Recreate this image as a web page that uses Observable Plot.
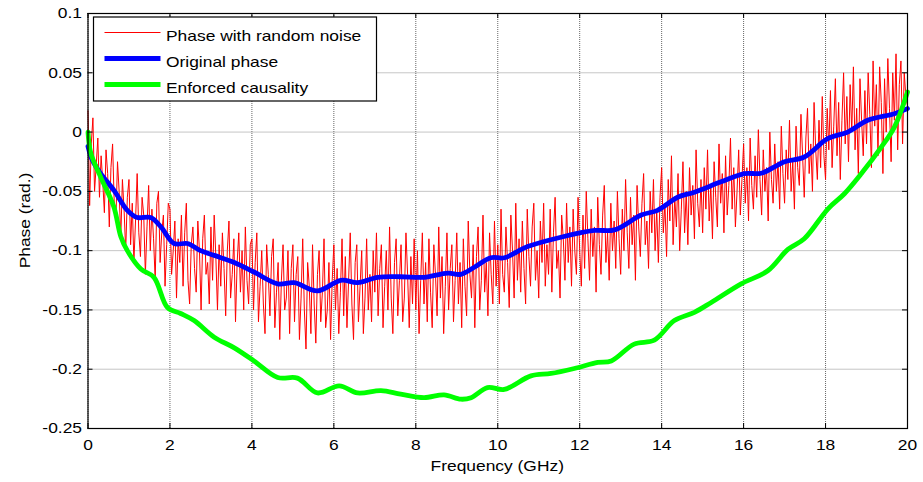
<!DOCTYPE html>
<html>
<head>
<meta charset="utf-8">
<script src="https://cdn.jsdelivr.net/npm/d3@7"></script>
<script src="https://cdn.jsdelivr.net/npm/@observablehq/plot@0.6"></script>
<style>
  html, body { margin: 0; padding: 0; background: #fff; }
  #chart { width: 923px; height: 482px; }
  svg { font-family: "Liberation Sans", Arial, sans-serif; }
</style>
</head>
<body>
<div id="chart"></div>
<script>
// ---- data ----
const xTicks = [0, 2, 4, 6, 8, 10, 12, 14, 16, 18, 20];
const yTicks = [-0.25, -0.2, -0.15, -0.1, -0.05, 0, 0.05, 0.1];
const seriesNames = ["Phase with random noise", "Original phase", "Enforced causality"];
const xLabel = "Frequency (GHz)";
const yLabel = "Phase (rad.)";

// phase with random noise, sampled every 0.04 GHz from 0 to 20 GHz (25 values per GHz)
const noisyPhase = [
  0.018, -0.062, -0.010, 0.012, -0.050, -0.028, -0.005, -0.055, -0.020, -0.042, -0.068, -0.015, -0.035, -0.080, -0.030, -0.010, -0.060, -0.075, -0.025, -0.050, -0.090, -0.040, -0.065, -0.100, -0.055,
  -0.040, -0.095, -0.060, -0.110, -0.075, -0.035, -0.085, -0.105, -0.055, -0.070, -0.120, -0.080, -0.045, -0.100, -0.065, -0.090, -0.125, -0.060, -0.050, -0.110, -0.085, -0.070, -0.130, -0.095, -0.060,
  -0.065, -0.120, -0.100, -0.075, -0.140, -0.090, -0.110, -0.070, -0.130, -0.085, -0.060, -0.125, -0.145, -0.095, -0.080, -0.115, -0.135, -0.075, -0.100, -0.150, -0.090, -0.070, -0.120, -0.110, -0.145,
  -0.080, -0.125, -0.070, -0.105, -0.150, -0.095, -0.130, -0.085, -0.115, -0.155, -0.100, -0.075, -0.140, -0.120, -0.090, -0.160, -0.110, -0.085, -0.135, -0.100, -0.150, -0.080, -0.125, -0.145, -0.095,
  -0.090, -0.150, -0.110, -0.085, -0.160, -0.130, -0.100, -0.145, -0.170, -0.095, -0.120, -0.155, -0.105, -0.090, -0.165, -0.135, -0.110, -0.175, -0.125, -0.095, -0.150, -0.140, -0.100, -0.170, -0.115,
  -0.095, -0.160, -0.120, -0.105, -0.175, -0.140, -0.090, -0.150, -0.183, -0.110, -0.130, -0.170, -0.095, -0.145, -0.178, -0.120, -0.100, -0.160, -0.135, -0.090, -0.165, -0.150, -0.110, -0.175, -0.125,
  -0.095, -0.150, -0.115, -0.170, -0.135, -0.090, -0.155, -0.105, -0.165, -0.125, -0.085, -0.145, -0.175, -0.110, -0.095, -0.160, -0.130, -0.100, -0.170, -0.140, -0.090, -0.150, -0.120, -0.160, -0.100,
  -0.135, -0.085, -0.155, -0.115, -0.095, -0.165, -0.130, -0.100, -0.150, -0.080, -0.140, -0.170, -0.110, -0.090, -0.155, -0.125, -0.095, -0.160, -0.140, -0.085, -0.120, -0.165, -0.105, -0.145, -0.090,
  -0.150, -0.100, -0.170, -0.125, -0.085, -0.145, -0.110, -0.160, -0.090, -0.135, -0.165, -0.095, -0.120, -0.155, -0.080, -0.140, -0.105, -0.170, -0.130, -0.085, -0.150, -0.115, -0.095, -0.160, -0.125,
  -0.085, -0.145, -0.110, -0.165, -0.090, -0.130, -0.155, -0.075, -0.120, -0.140, -0.095, -0.165, -0.105, -0.080, -0.150, -0.125, -0.070, -0.135, -0.110, -0.155, -0.085, -0.120, -0.145, -0.075, -0.130,
  -0.095, -0.145, -0.065, -0.120, -0.135, -0.080, -0.110, -0.148, -0.070, -0.100, -0.140, -0.060, -0.125, -0.090, -0.135, -0.075, -0.115, -0.145, -0.065, -0.105, -0.130, -0.080, -0.060, -0.125, -0.100,
  -0.140, -0.075, -0.110, -0.060, -0.130, -0.095, -0.120, -0.065, -0.135, -0.085, -0.055, -0.115, -0.100, -0.140, -0.070, -0.090, -0.125, -0.060, -0.110, -0.080, -0.130, -0.065, -0.100, -0.120, -0.055,
  -0.100, -0.130, -0.070, -0.115, -0.050, -0.090, -0.125, -0.065, -0.105, -0.080, -0.135, -0.055, -0.095, -0.120, -0.070, -0.045, -0.110, -0.085, -0.125, -0.060, -0.100, -0.075, -0.115, -0.050, -0.090,
  -0.120, -0.065, -0.100, -0.040, -0.085, -0.115, -0.055, -0.095, -0.070, -0.125, -0.045, -0.080, -0.105, -0.060, -0.035, -0.095, -0.075, -0.115, -0.050, -0.085, -0.040, -0.100, -0.065, -0.110, -0.055,
  -0.030, -0.085, -0.060, -0.105, -0.040, -0.075, -0.020, -0.095, -0.055, -0.080, -0.035, -0.100, -0.065, -0.025, -0.085, -0.050, -0.095, -0.030, -0.070, -0.045, -0.090, -0.015, -0.060, -0.080, -0.040,
  -0.085, -0.030, -0.065, -0.015, -0.075, -0.045, -0.090, -0.025, -0.055, -0.080, -0.010, -0.060, -0.035, -0.085, -0.020, -0.070, -0.045, -0.005, -0.065, -0.030, -0.080, -0.050, -0.015, -0.070, -0.040,
  -0.010, -0.060, -0.030, -0.075, -0.005, -0.045, -0.065, -0.020, -0.055, 0.002, -0.040, -0.070, -0.015, -0.050, -0.030, -0.075, 0.000, -0.040, -0.060, -0.010, -0.050, -0.025, -0.065, 0.005, -0.035,
  -0.060, -0.015, -0.040, 0.010, -0.050, -0.025, -0.065, 0.005, -0.030, -0.045, 0.015, -0.020, -0.055, -0.005, 0.020, -0.035, -0.010, -0.050, 0.025, -0.015, -0.040, 0.010, -0.030, 0.030, -0.020,
  -0.040, 0.020, -0.015, 0.035, -0.030, 0.005, 0.045, -0.020, 0.025, -0.040, 0.010, 0.050, -0.010, 0.030, -0.025, 0.040, 0.000, 0.055, -0.015, 0.020, -0.035, 0.045, 0.010, -0.020, 0.035,
  -0.010, 0.050, 0.015, -0.030, 0.060, 0.005, 0.040, -0.020, 0.055, 0.025, -0.035, 0.045, 0.000, 0.062, 0.020, -0.025, 0.050, 0.010, 0.066, -0.015, 0.040, 0.060, -0.010, 0.050, 0.030, 0.022
];
const noisyFreqStart = 0, noisyFreqEnd = 20;

const originalFreq = [0, 0.11, 0.31, 0.63, 0.96, 1.2, 1.53, 1.78, 2.1, 2.43, 2.75, 3.08, 3.57, 4.05, 4.63, 5.03, 5.6, 6.17, 6.58, 7.07, 7.63, 8.2, 8.78, 9.1, 9.43, 9.83, 10.16, 10.73, 11.54, 12.36, 12.85, 13.5, 13.9, 14.39, 14.8, 15.45, 16.02, 16.43, 17.0, 17.48, 18.05, 18.54, 19.03, 19.68, 20.0];
const originalPhase = [-0.012, -0.024, -0.035, -0.049, -0.066, -0.072, -0.072, -0.080, -0.094, -0.094, -0.100, -0.104, -0.110, -0.118, -0.128, -0.127, -0.134, -0.125, -0.127, -0.1225, -0.122, -0.1225, -0.119, -0.120, -0.114, -0.106, -0.106, -0.0966, -0.0887, -0.083, -0.0825, -0.070, -0.066, -0.055, -0.0507, -0.042, -0.035, -0.0347, -0.025, -0.021, -0.0056, 0.0, 0.0099, 0.0155, 0.0198];

const causalFreq = [0, 0.07, 0.31, 0.63, 0.8, 0.96, 1.29, 1.61, 1.94, 2.26, 2.59, 3.08, 3.57, 4.05, 4.63, 5.11, 5.6, 6.13, 6.58, 7.15, 7.63, 8.2, 8.69, 9.1, 9.35, 9.75, 10.16, 10.81, 11.3, 11.87, 12.44, 12.77, 13.33, 13.82, 14.31, 14.8, 15.21, 15.94, 16.59, 17.08, 17.48, 18.06, 18.46, 18.87, 19.36, 19.68, 20.0];
const causalPhase = [0, -0.018, -0.038, -0.063, -0.088, -0.100, -0.1155, -0.1225, -0.148, -0.153, -0.159, -0.173, -0.182, -0.193, -0.207, -0.2075, -0.220, -0.214, -0.220, -0.218, -0.221, -0.224, -0.2216, -0.2253, -0.224, -0.2155, -0.217, -0.2056, -0.2036, -0.1994, -0.1943, -0.193, -0.1788, -0.1755, -0.159, -0.152, -0.1437, -0.128, -0.117, -0.099, -0.090, -0.0647, -0.052, -0.0352, -0.0127, 0.0042, 0.0338];

const seriesColors = ["#ff0000", "#0000ff", "#00ff00"];

// ---- build tables ----
const nStep = (noisyFreqEnd - noisyFreqStart) / (noisyPhase.length - 1);
const noisy = noisyPhase.map((v, i) => ({f: noisyFreqStart + i * nStep, v}));
const original = originalPhase.map((v, i) => ({f: originalFreq[i], v}));
const causal = causalPhase.map((v, i) => ({f: causalFreq[i], v}));

const W = 923, H = 482;
const mL = 87.5, mR = 16, mT = 13, mB = 54;
const frameH = H - mT - mB, frameW = W - mL - mR;
const tickLen = 5;
const FONT = 15, STRETCH = 1.16;
const thick = 4.8;

const chart = Plot.plot({
  width: W, height: H,
  marginLeft: mL, marginRight: mR, marginTop: mT, marginBottom: mB,
  style: {fontFamily: '"Liberation Sans", Arial, sans-serif', fontSize: FONT + "px", color: "#000", background: "#fff"},
  x: {domain: [0, 20], ticks: xTicks, tickSize: 0, tickPadding: 11, tickFormat: d => String(d), label: null},
  y: {domain: [-0.25, 0.1], ticks: yTicks, tickSize: 0, tickPadding: 6, tickFormat: d => String(d), label: null},
  marks: [
    Plot.ruleX(xTicks, {x: d => d, stroke: "#666", strokeDasharray: "1,1", strokeWidth: 1}),
    Plot.ruleY(yTicks, {y: d => d, stroke: "#8c8c8c", strokeDasharray: "1,1", strokeWidth: 1}),
    Plot.line(noisy, {x: "f", y: "v", stroke: seriesColors[0], strokeWidth: 1}),
    Plot.line(original, {x: "f", y: "v", stroke: seriesColors[1], strokeWidth: thick, curve: "catmull-rom"}),
    Plot.line(causal, {x: "f", y: "v", stroke: seriesColors[2], strokeWidth: thick, curve: "catmull-rom"}),
    Plot.tickX(xTicks, {x: d => d, stroke: "#000", insetTop: frameH - tickLen}),
    Plot.tickX(xTicks, {x: d => d, stroke: "#000", insetBottom: frameH - tickLen}),
    Plot.tickY(yTicks, {y: d => d, stroke: "#000", insetRight: frameW - tickLen}),
    Plot.tickY(yTicks, {y: d => d, stroke: "#000", insetLeft: frameW - tickLen}),
    Plot.frame({stroke: "#000", strokeWidth: 1.2})
  ]
});

const svg = d3.select(chart);
// axis labels
svg.append("text").attr("text-anchor", "middle")
  .attr("transform", `translate(${mL + frameW / 2},471)`)
  .attr("font-size", FONT).attr("fill", "#000").text(xLabel);
svg.append("text").attr("text-anchor", "middle")
  .attr("transform", `translate(29.5,${mT + frameH / 2}) rotate(-90)`)
  .attr("font-size", FONT).attr("fill", "#000").text(yLabel);

// legend
const lg = svg.append("g");
lg.append("rect").attr("x", 93.5).attr("y", 17).attr("width", 283).attr("height", 84)
  .attr("fill", "#fff").attr("stroke", "#000").attr("stroke-width", 1.2);
const widths = [1.2, thick, thick];
seriesNames.forEach((name, i) => {
  const yb = 40.5 + i * 26;
  lg.append("line").attr("x1", 104.5).attr("x2", 160.5).attr("y1", yb - 8).attr("y2", yb - 8)
    .attr("stroke", seriesColors[i]).attr("stroke-width", widths[i]);
  lg.append("text").attr("text-anchor", "start")
    .attr("transform", `translate(166,${yb})`).attr("font-size", FONT).attr("fill", "#000").text(name);
});

// stretch all text horizontally to match reference proportions
svg.selectAll("text").each(function () {
  const t = this.getAttribute("transform") || "";
  this.setAttribute("transform", (t + ` scale(${STRETCH},1)`).trim());
});

document.getElementById("chart").appendChild(chart);
</script>
</body>
</html>
